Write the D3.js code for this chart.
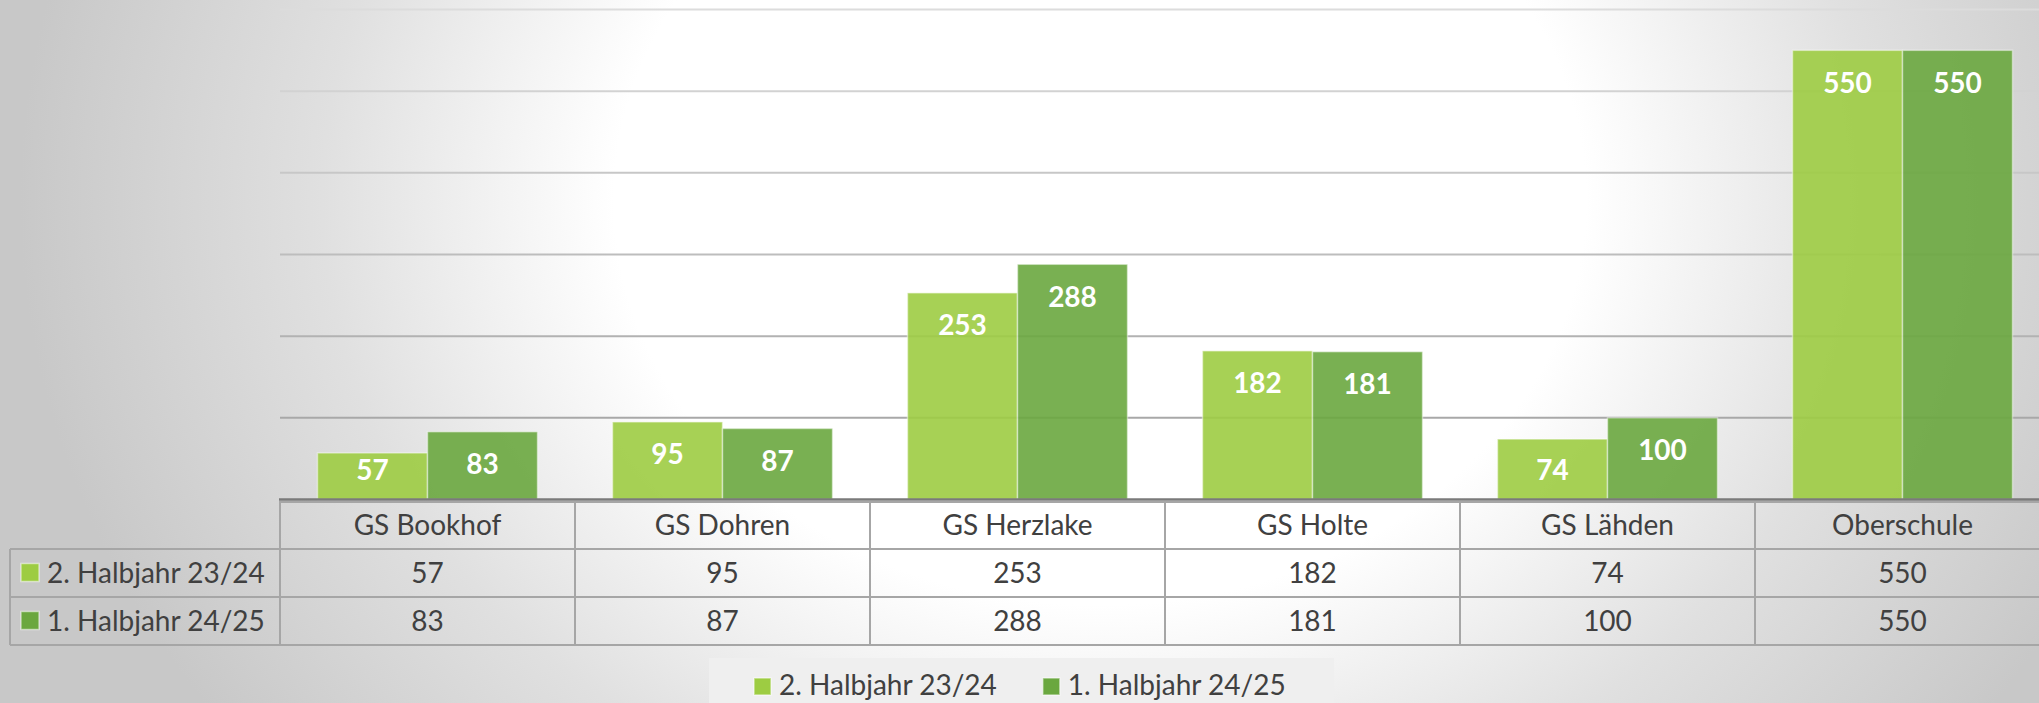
<html>
<head>
  <meta charset="utf-8">
  <title>Halbjahre</title>
  <script src="https://d3js.org/d3.v7.min.js"></script>
  <style>
  body{
    margin: 0;
    overflow: hidden;
  }
  text{
    font-family: Lato, "Open Sans", sans-serif;
  }
  .cell{
    fill: #404040;
    font-size: 28px;
  }
  .barlabel{
    fill: white;
    font-size: 28px;
    font-weight: bold;
  }
  .tline{
    stroke: #a6a6a6;
    stroke-width: 2px;
  }
</style>
</head>
<body>
  <svg id="chart" width="2039" height="703"></svg>
  <script>

// data
const categories = ["GS Bookhof", "GS Dohren", "GS Herzlake", "GS Holte", "GS Lähden", "Oberschule"];
const seriesNames = ["2. Halbjahr 23/24", "1. Halbjahr 24/25"];
const halbjahr2324 = [57, 95, 253, 182, 74, 550];
const halbjahr2425 = [83, 87, 288, 181, 100, 550];
const yTicks = [100, 200, 300, 400, 500, 600];

const seriesValues = [halbjahr2324, halbjahr2425];
const colors = ["#9dcc42", "#6aa73f"];

const svg = d3.select("#chart");
const width = +svg.attr("width");
const height = +svg.attr("height");

// background
const defs = svg.append("defs");
const bg = defs.append("radialGradient")
  .attr("id", "bg")
  .attr("gradientUnits", "userSpaceOnUse")
  .attr("cx", 0).attr("cy", 0).attr("r", 1)
  .attr("gradientTransform", "translate(1100,200) scale(1080,900)");
bg.append("stop").attr("offset", 0).attr("stop-color", "#ffffff");
bg.append("stop").attr("offset", 0.45).attr("stop-color", "#ffffff");
bg.append("stop").attr("offset", 0.72).attr("stop-color", "#e0e0e0");
bg.append("stop").attr("offset", 1).attr("stop-color", "#c8c8c8");
svg.append("rect").attr("width", width).attr("height", height).attr("fill", "url(#bg)");

const plotLeft = 280, band = 295;
const x0 = d3.scaleBand().domain(categories)
  .range([plotLeft, plotLeft + band * categories.length]);
const x1 = d3.scaleBand().domain(seriesNames).range([37.5, band - 37.5]);
const y = d3.scaleLinear().domain([0, 600]).range([499.5, 9.5]);

// gridlines, lighter at the top
const gridColor = d3.scaleLinear().domain([600, 100]).range(["#dcdcdc", "#a8a8a8"]);
svg.append("g").selectAll("line").data(yTicks)
  .enter()
  .append("line")
  .attr("x1", plotLeft).attr("x2", width)
  .attr("y1", d => y(d)).attr("y2", d => y(d))
  .attr("stroke", d => gridColor(d))
  .attr("stroke-width", 2);

// bars
const groups = svg.append("g").selectAll("g").data(categories)
  .enter()
  .append("g")
  .attr("transform", d => "translate(" + x0(d) + ",0)");

const cells = groups.selectAll("g")
  .data((c, i) => seriesNames.map((s, j) => ({ s: s, v: seriesValues[j][i], j: j })))
  .enter().append("g");

cells.append("rect")
  .attr("x", d => x1(d.s))
  .attr("width", x1.bandwidth())
  .attr("y", d => y(d.v))
  .attr("height", d => y(0) - y(d.v))
  .attr("fill", d => colors[d.j])
  .attr("fill-opacity", 0.9)
  .attr("stroke", "rgba(255,255,255,0.45)")
  .attr("stroke-width", 1.5);

cells.append("text")
  .attr("class", "barlabel")
  .attr("text-anchor", "middle")
  .attr("x", d => x1(d.s) + x1.bandwidth() / 2)
  .attr("y", d => Math.min(y(d.v) + 42.5, 480))
  .text(d => d.v);

// axis line
svg.append("line")
  .attr("x1", plotLeft - 1).attr("x2", width)
  .attr("y1", y(0)).attr("y2", y(0))
  .attr("stroke", "#7a7a7a")
  .attr("stroke-width", 2.5);

// data table
const rowTop = [501, 549, 597, 645];
const tableLeft = 10;
const tableRight = plotLeft + band * categories.length;
const table = svg.append("g");

table.append("line").attr("class", "tline")
  .attr("x1", plotLeft).attr("x2", tableRight).attr("y1", 502).attr("y2", 502);
table.selectAll(".hl").data(rowTop.slice(1)).enter()
  .append("line").attr("class", "tline")
  .attr("x1", tableLeft).attr("x2", tableRight)
  .attr("y1", d => d).attr("y2", d => d);
table.selectAll(".vl").data(d3.range(categories.length + 1)).enter()
  .append("line").attr("class", "tline")
  .attr("x1", d => plotLeft + d * band).attr("x2", d => plotLeft + d * band)
  .attr("y1", 501).attr("y2", 645);
table.append("line").attr("class", "tline")
  .attr("x1", tableLeft).attr("x2", tableLeft).attr("y1", 549).attr("y2", 645);

table.selectAll(".cat").data(categories).enter()
  .append("text").attr("class", "cell")
  .attr("text-anchor", "middle")
  .attr("x", d => x0(d) + band / 2)
  .attr("y", 535)
  .text(d => d);

seriesNames.forEach((s, j) => {
  const mid = (rowTop[j + 1] + rowTop[j + 2]) / 2;
  table.append("rect")
    .attr("x", 21).attr("y", mid - 9.5)
    .attr("width", 18).attr("height", 18)
    .attr("fill", colors[j])
    .attr("stroke", "rgba(255,255,255,0.5)")
    .attr("stroke-width", 1.5);
  table.append("text").attr("class", "cell")
    .attr("x", 47).attr("y", mid + 10)
    .text(s);
  table.selectAll(".v" + j).data(seriesValues[j]).enter()
    .append("text").attr("class", "cell")
    .attr("text-anchor", "middle")
    .attr("x", (d, i) => x0(categories[i]) + band / 2)
    .attr("y", mid + 10)
    .text(d => d);
});

// legend
const legend = svg.append("g");
legend.append("rect")
  .attr("x", 709).attr("y", 658)
  .attr("width", 625).attr("height", 60)
  .attr("fill", "#efefef");
let lx = 754;
seriesNames.forEach((s, j) => {
  legend.append("rect")
    .attr("x", lx).attr("y", 678)
    .attr("width", 17).attr("height", 17)
    .attr("fill", colors[j])
    .attr("stroke", "rgba(255,255,255,0.5)")
    .attr("stroke-width", 1.5);
  const t = legend.append("text").attr("class", "cell")
    .attr("x", lx + 25).attr("y", 695)
    .text(s);
  lx += 25 + t.node().getComputedTextLength() + 46;
});

    </script>
</body>
</html>
